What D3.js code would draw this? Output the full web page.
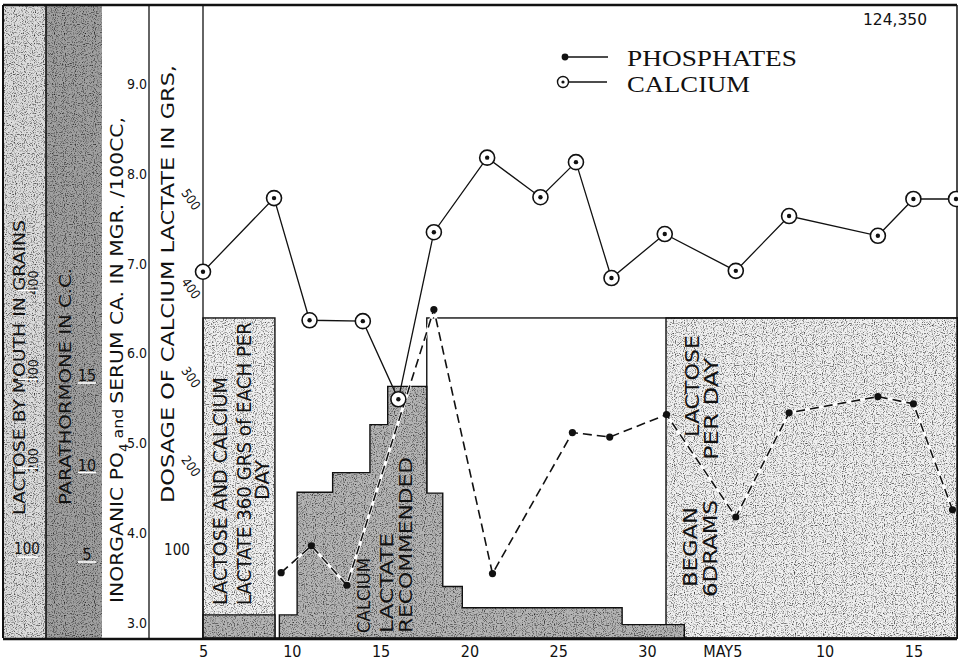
<!DOCTYPE html>
<html>
<head>
<meta charset="utf-8">
<script src="https://cdn.jsdelivr.net/npm/d3@7"></script>
<style>
  body { margin: 0; background: #fff; }
  svg { display: block; }
</style>
</head>
<body>
<div id="chart-area"></div>
<script>
const width = 958, height = 664

// days counted from the start of April: April 5 = 5 ... May 5 = 35
const calciumDays = [5, 9, 11, 14, 16, 18, 21, 24, 26, 28, 31, 35, 38, 43, 45, 47.4]
const calciumMg = [6.91, 7.73, 6.37, 6.36, 5.49, 7.35, 8.18, 7.74, 8.13, 6.84, 7.33, 6.92, 7.53, 7.31, 7.72, 7.72]

const phosphateDays = [9.4, 11.1, 13.1, 18, 21.3, 25.8, 27.9, 31.1, 35, 38, 43, 45, 47.2]
const phosphateMg = [3.56, 3.86, 3.42, 6.49, 3.55, 5.12, 5.07, 5.32, 4.18, 5.34, 5.52, 5.44, 4.26]

// calcium lactate dosage, each value holds until the next day
const doseDays = [5, 9.05, 9.3, 10.3, 12.3, 14.4, 15.4, 17.6, 18.5, 19.6, 28.6, 32.1]
const doseGrains = [26, 0, 26, 164, 186, 240, 283, 163, 58, 34, 15, 0]

// lactose by mouth
const lactoseFrom = [5, 17.6, 31.07]
const lactoseTo = [9.05, 47.5, 47.5]
const lactoseGrains = [360, 360, 360]
const lactoseShaded = [true, false, true]

const dayTicks = [5, 10, 15, 20, 25, 30, 35, 40, 45]
const dayLabels = ["5", "10", "15", "20", "25", "30", "MAY5", "10", "15"]
const mgTicks = [3, 4, 5, 6, 7, 8, 9]
const doseTicks = [100, 200, 300, 400, 500]
const grainTicks = [100, 200, 300, 400]
const paraTicks = [5, 10, 15]

const hand = "'Liberation Sans Narrow', 'DejaVu Sans Condensed', sans-serif"

const svg = d3.select("#chart-area").append("svg")
    .attr("width", width)
    .attr("height", height)

// grain texture for the stippled areas
const defs = svg.append("defs")
const grain = defs.append("filter")
    .attr("id", "grain")
    .attr("x", 0).attr("y", 0).attr("width", 1).attr("height", 1)
    .attr("color-interpolation-filters", "sRGB")
grain.append("feTurbulence")
    .attr("type", "fractalNoise")
    .attr("baseFrequency", 0.9)
    .attr("numOctaves", 1)
    .attr("seed", 4)
    .attr("result", "n")
grain.append("feColorMatrix")
    .attr("in", "n")
    .attr("type", "matrix")
    .attr("values", "2.4 0 0 0 -0.22  2.4 0 0 0 -0.22  2.4 0 0 0 -0.22  0 0 0 0 1")
    .attr("result", "g")
grain.append("feComposite")
    .attr("in", "g").attr("in2", "SourceGraphic").attr("operator", "in")
    .attr("result", "gc")
grain.append("feBlend")
    .attr("in", "SourceGraphic").attr("in2", "gc").attr("mode", "multiply")

// Scales
const x = d3.scaleLinear().domain([5, 47.5]).range([203, 957.8])
const mgY = d3.scaleLinear().domain([3, 9]).range([623, 84])
const doseY = d3.scaleLinear().domain([0, 500]).range([638, 193.5])
const paraY = d3.scaleLinear().domain([5, 15]).range([561, 382])

const topY = 5, base = doseY(0)

// left strips
svg.append("rect").attr("x", 3).attr("y", topY).attr("width", 43).attr("height", base - topY)
    .attr("fill", "#dcdcdc").attr("filter", "url(#grain)")
svg.append("rect").attr("x", 46).attr("y", topY).attr("width", 56).attr("height", base - topY)
    .attr("fill", "#a0a0a0").attr("filter", "url(#grain)")

const frame = svg.append("g").attr("stroke", "#111").attr("fill", "none")
frame.append("line").attr("x1", 3).attr("x2", 957).attr("y1", topY).attr("y2", topY).attr("stroke-width", 2.5)
frame.append("line").attr("x1", 3).attr("x2", 3).attr("y1", topY).attr("y2", base).attr("stroke-width", 2)
frame.append("line").attr("x1", 46).attr("x2", 46).attr("y1", topY).attr("y2", base).attr("stroke-width", 1.6)
frame.append("line").attr("x1", 149).attr("x2", 149).attr("y1", topY).attr("y2", base).attr("stroke-width", 1.3)
frame.append("line").attr("x1", 203).attr("x2", 203).attr("y1", topY).attr("y2", base).attr("stroke-width", 1.3)

// rotated lettering helper
const vtext = (g, cx, y, str, size, len, anchor = "start") => {
    const t = g.append("text")
        .attr("transform", `translate(${cx},${y}) rotate(-90)`)
        .attr("dy", "0.36em")
        .attr("text-anchor", anchor)
        .attr("font-family", hand)
        .attr("font-size", size)
        .attr("fill", "#111")
        .attr("textLength", len)
        .attr("lengthAdjust", "spacingAndGlyphs")
    t.text(str)
    return t
}

const labels = svg.append("g")
vtext(labels, 19, 515, "LACTOSE BY MOUTH IN GRAINS", 16, 295)
vtext(labels, 65, 505, "PARATHORMONE IN C.C.", 16, 237)
const inorg = vtext(labels, 117, 603, "", 18, 486)
inorg.append("tspan").text("INORGANIC PO")
inorg.append("tspan").attr("dy", 5).attr("font-size", 12).text("4")
inorg.append("tspan").attr("dy", -5).attr("font-size", 14).text(" and ")
inorg.append("tspan").text("SERUM CA. IN MGR. /100CC,")
vtext(labels, 168, 503, "DOSAGE OF CALCIUM LACTATE IN GRS,", 18, 438)

// strip ticks: lactose grains
grainTicks.forEach(v => {
    const yy = doseY(v)
    if (v === 100) {
        labels.append("text").attr("x", 27).attr("y", yy + 5).attr("text-anchor", "middle")
            .attr("font-family", hand).attr("font-size", 15).attr("fill", "#111").text(v)
    } else {
        vtext(labels, 33, yy, String(v), 14, 24, "middle")
    }
    labels.append("line").attr("x1", 18).attr("x2", 38).attr("y1", yy + 8).attr("y2", yy + 8)
        .attr("stroke", "#fff").attr("stroke-width", 1.6)
})

// strip ticks: parathormone
paraTicks.forEach(v => {
    const yy = paraY(v)
    labels.append("text").attr("x", 87).attr("y", yy - 1).attr("text-anchor", "middle")
        .attr("font-family", hand).attr("font-size", 16).attr("fill", "#111").text(v)
    labels.append("line").attr("x1", 78).attr("x2", 96).attr("y1", yy + 1).attr("y2", yy + 1)
        .attr("stroke", "#fff").attr("stroke-width", 1.6)
})

// mg axis
const mgAxis = svg.append("g")
    .attr("transform", "translate(149,0)")
    .call(d3.axisLeft(mgY).tickValues(mgTicks).tickSize(0).tickPadding(2).tickFormat(d3.format(".1f")))
mgAxis.select(".domain").remove()
mgAxis.selectAll("text").attr("font-family", hand).attr("font-size", 14).attr("fill", "#111")

// dosage axis
doseTicks.forEach(v => {
    const yy = doseY(v)
    if (v === 100) {
        labels.append("text").attr("x", 177).attr("y", yy + 6).attr("text-anchor", "middle")
            .attr("font-family", hand).attr("font-size", 15).attr("fill", "#111").text(v)
    } else {
        labels.append("text")
            .attr("transform", `translate(191,${yy + 6}) rotate(55)`)
            .attr("text-anchor", "middle").attr("dy", "0.35em")
            .attr("font-family", hand).attr("font-size", 13).attr("fill", "#111").text(v)
    }
})

// lactose boxes
const lac = d3.range(lactoseFrom.length)
const boxes = svg.append("g")
lac.filter(i => lactoseShaded[i]).forEach(i => {
    boxes.append("rect")
        .attr("x", x(lactoseFrom[i])).attr("y", doseY(lactoseGrains[i]))
        .attr("width", x(lactoseTo[i]) - x(lactoseFrom[i]))
        .attr("height", base - doseY(lactoseGrains[i]))
        .attr("fill", "#f0f0f0").attr("filter", "url(#grain)")
})
lac.forEach(i => {
    boxes.append("rect")
        .attr("x", x(lactoseFrom[i])).attr("y", doseY(lactoseGrains[i]))
        .attr("width", x(lactoseTo[i]) - x(lactoseFrom[i]))
        .attr("height", base - doseY(lactoseGrains[i]))
        .attr("fill", "none").attr("stroke", "#111").attr("stroke-width", 1.4)
})

// calcium lactate dosage steps
const doseData = doseDays.map((d, i) => ({day: d, grains: doseGrains[i]}))
const doseArea = d3.area()
    .curve(d3.curveStepAfter)
    .x(d => x(d.day))
    .y0(base)
    .y1(d => doseY(d.grains))
svg.append("path")
    .attr("d", doseArea(doseData))
    .attr("fill", "#b4b4b4").attr("filter", "url(#grain)")
svg.append("path")
    .attr("d", doseArea(doseData))
    .attr("fill", "none").attr("stroke", "#111").attr("stroke-width", 1.4)

// box lettering
const notes = svg.append("g")
vtext(notes, 220, 605, "LACTOSE AND CALCIUM", 19, 228)
vtext(notes, 244, 605, "LACTATE 360 GRS of EACH PER", 19, 283)
vtext(notes, 262, 480, "DAY", 19, 40, "middle")
vtext(notes, 364, 633, "CALCIUM", 17, 75)
vtext(notes, 387, 633, "LACTATE", 17, 100)
vtext(notes, 406, 633, "RECOMMENDED", 17, 176)
vtext(notes, 690, 587, "BEGAN", 20, 80)
vtext(notes, 710, 597, "6DRAMS", 20, 97)
vtext(notes, 692, 437, "LACTOSE", 20, 102)
vtext(notes, 711, 460, "PER DAY", 20, 102)

// baseline and right edge
frame.raise()
svg.append("line").attr("x1", 3).attr("x2", 957).attr("y1", base + 1).attr("y2", base + 1)
    .attr("stroke", "#111").attr("stroke-width", 2.5)
svg.append("line").attr("x1", 957).attr("x2", 957).attr("y1", topY).attr("y2", base)
    .attr("stroke", "#111").attr("stroke-width", 1.5)

// day axis
const xAxis = svg.append("g")
    .attr("transform", `translate(0,${base + 2})`)
    .call(d3.axisBottom(x).tickValues(dayTicks).tickSize(0).tickPadding(6)
        .tickFormat((d, i) => dayLabels[i]))
xAxis.select(".domain").remove()
xAxis.selectAll("text").attr("font-family", hand).attr("font-size", 16).attr("fill", "#111")
xAxis.selectAll(".tick").filter(d => d === 35).select("text")
    .attr("text-anchor", "end").attr("dx", 6)

// phosphates
const phosData = phosphateDays.map((d, i) => ({day: d, mg: phosphateMg[i]}))
const phosLine = d3.line().x(d => x(d.day)).y(d => mgY(d.mg))
svg.append("path").attr("d", phosLine(phosData))
    .attr("fill", "none").attr("stroke", "#fff").attr("stroke-width", 3)
svg.append("path").attr("d", phosLine(phosData))
    .attr("fill", "none").attr("stroke", "#111").attr("stroke-width", 1.6)
    .attr("stroke-dasharray", "9,5")
svg.append("g").selectAll("circle").data(phosData).join("circle")
    .attr("cx", d => x(d.day)).attr("cy", d => mgY(d.mg)).attr("r", 3.6).attr("fill", "#111")

// calcium
const calData = calciumDays.map((d, i) => ({day: d, mg: calciumMg[i]}))
const calLine = d3.line().x(d => x(d.day)).y(d => mgY(d.mg))
svg.append("path").attr("d", calLine(calData))
    .attr("fill", "none").attr("stroke", "#111").attr("stroke-width", 1.3)
const calPts = svg.append("g").selectAll("g").data(calData).join("g")
    .attr("transform", d => `translate(${x(d.day)},${mgY(d.mg)})`)
calPts.append("circle").attr("r", 7.5).attr("fill", "#fff").attr("stroke", "#111").attr("stroke-width", 1.6)
calPts.append("circle").attr("r", 2.2).attr("fill", "#111")

// legend
const legend = svg.append("g")
legend.append("line").attr("x1", 565).attr("x2", 608).attr("y1", 57).attr("y2", 57)
    .attr("stroke", "#111").attr("stroke-width", 1.4)
legend.append("circle").attr("cx", 565).attr("cy", 57).attr("r", 3.4).attr("fill", "#111")
legend.append("line").attr("x1", 569).attr("x2", 607).attr("y1", 82).attr("y2", 82)
    .attr("stroke", "#111").attr("stroke-width", 1.4)
legend.append("circle").attr("cx", 563).attr("cy", 82).attr("r", 5.5)
    .attr("fill", "#fff").attr("stroke", "#111").attr("stroke-width", 1.4)
legend.append("circle").attr("cx", 563).attr("cy", 82).attr("r", 1.6).attr("fill", "#111")
legend.append("text").attr("x", 627).attr("y", 66)
    .attr("font-family", "'Liberation Serif', serif").attr("font-size", 24).attr("fill", "#111")
    .attr("textLength", 170).attr("lengthAdjust", "spacingAndGlyphs").text("PHOSPHATES")
legend.append("text").attr("x", 627).attr("y", 92)
    .attr("font-family", "'Liberation Serif', serif").attr("font-size", 24).attr("fill", "#111")
    .attr("textLength", 123).attr("lengthAdjust", "spacingAndGlyphs").text("CALCIUM")

svg.append("text").attr("x", 895).attr("y", 25).attr("text-anchor", "middle")
    .attr("font-family", hand).attr("font-size", 15).attr("fill", "#111")
    .attr("textLength", 64).attr("lengthAdjust", "spacingAndGlyphs").text("124,350")
</script>
</body>
</html>
